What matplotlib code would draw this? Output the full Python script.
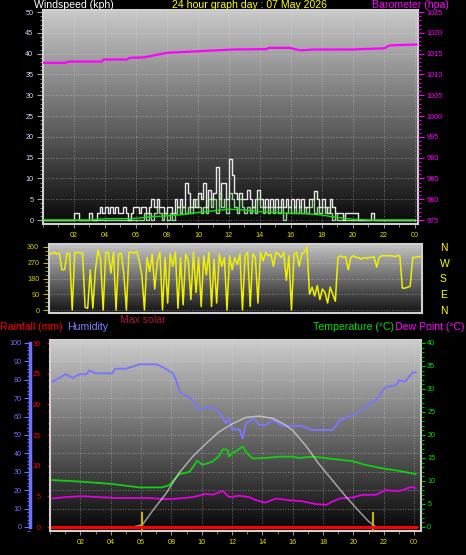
#!python3
import numpy as np
import matplotlib
matplotlib.use("Agg")
from matplotlib import pyplot as plt
from matplotlib.colors import LinearSegmentedColormap
from matplotlib.ticker import MultipleLocator

plt.rcParams["font.family"] = ["Liberation Sans", "DejaVu Sans"]

W, H = 466, 555

# windspeed, 10 minute samples from 00:00 to 24:00 (kph)
gust = [
    0, 0, 0, 0, 0, 0,
    0, 0, 0, 0, 0, 0,
    1.6, 1.6, 0, 0, 0, 0,
    1.6, 0, 0, 1.6, 3.2, 1.6,
    3.2, 1.6, 3.2, 1.6, 3.2, 1.6,
    1.6, 3.2, 1.6, 0, 1.6, 3.2,
    3.2, 1.6, 3.2, 3.2, 1.6, 3.2,
    5.0, 3.2, 5.0, 3.2, 3.2, 1.6,
    3.2, 3.2, 1.6, 5.0, 3.2, 5.0,
    3.2, 9.0, 6.4, 3.2, 5.0, 3.2,
    6.4, 5.0, 9.0, 3.2, 7.2, 5.0,
    6.4, 12.8, 5.0, 9.0, 9.0, 5.0,
    14.6, 10.8, 6.4, 5.0, 6.4, 5.0,
    5.0, 7.2, 5.0, 3.2, 5.0, 7.2,
    5.0, 3.2, 5.0, 3.2, 5.0, 3.2,
    5.0, 3.2, 5.0, 3.2, 5.0, 3.2,
    5.0, 3.2, 5.0, 3.2, 5.0, 3.2,
    3.2, 5.0, 5.0, 6.9, 5.0, 3.2,
    5.0, 3.2, 1.6, 5.0, 3.2, 1.6,
    1.6, 1.6, 0, 1.6, 1.6, 1.6,
    1.6, 1.6, 0, 0, 0, 0,
    0, 1.6, 0, 0, 0, 0,
    0, 0, 0, 0, 0, 0,
    0, 0, 0, 0, 0, 0,
    0,
]
wind = [
    0, 0, 0, 0, 0, 0,
    0, 0, 0, 0, 0, 0,
    0, 0, 0, 0, 0, 0,
    0, 0, 0, 0, 0, 0,
    0, 0, 0, 0, 0, 0,
    0, 0, 0, 0, 0, 0,
    0, 0, 0, 1.6, 0, 1.6,
    0, 1.6, 3.2, 1.6, 0, 1.6,
    0, 1.6, 0, 1.6, 3.2, 1.6,
    3.2, 1.6, 3.2, 1.6, 3.2, 5.0,
    3.2, 1.6, 3.2, 1.6, 5.0, 3.2,
    5.0, 1.6, 6.4, 3.2, 5.0, 1.6,
    6.4, 5.0, 3.2, 1.6, 5.0, 3.2,
    1.6, 3.2, 1.6, 3.2, 1.6, 5.0,
    3.2, 1.6, 3.2, 1.6, 3.2, 1.6,
    3.2, 1.6, 3.2, 0, 1.6, 3.2,
    1.6, 3.2, 1.6, 3.2, 1.6, 3.2,
    1.6, 3.2, 5.0, 1.6, 3.2, 1.6,
    3.2, 1.6, 3.2, 1.6, 0, 1.6,
    0, 0, 0, 0, 0, 0,
    0, 0, 0, 0, 0, 0,
    0, 0, 0, 0, 0, 0,
    0, 0, 0, 0, 0, 0,
    0, 0, 0, 0, 0, 0,
    0,
]
avg_hours = list(range(25))
avg_wind = [0, 0, 0, 0, 0.3, 0.3, 0.4, 0.8, 1.0, 1.3, 1.8, 2.2, 2.6,
            2.4, 2.0, 1.8, 1.6, 1.5, 1.2, 0.6, 0.2, 0, 0, 0, 0]

baro_hours = [0, 1.4, 1.7, 3.8, 3.9, 5.4, 5.6, 6.5, 8.0, 10.1, 12.3, 14.4, 14.6, 15.9,
              16.6, 17.5, 20.0, 22.0, 22.4, 24.1]
baro = [1012.8, 1012.8, 1013.1, 1013.1, 1013.6, 1013.6, 1014.0, 1014.1, 1015.2, 1015.6,
        1016.0, 1016.1, 1016.4, 1016.4, 1015.8, 1016.0, 1016.0, 1016.3, 1017.0, 1017.2]

# wind direction, 10 minute samples (degrees)
direction = [
    325, 320, 330, 320, 325, 230,
    230, 325, 320, 0, 328, 328,
    328, 325, 15, 10, 229, 10,
    229, 343, 286, 0, 330, 330,
    210, 330, 0, 320, 325, 210,
    0, 330, 330, 325, 335, 280,
    200, 0, 300, 220, 320, 120,
    280, 330, 0, 300, 40, 320,
    250, 330, 10, 300, 30, 320,
    280, 60, 330, 100, 300, 20,
    310, 200, 330, 20, 290, 40,
    320, 250, 300, 0, 310, 230,
    300, 260, 320, 0, 310, 330,
    20, 320, 300, 40, 330, 280,
    330, 310, 320, 250, 330, 320,
    300, 330, 170, 310, 0, 320,
    330, 250, 320, 330, 360, 90,
    130, 80, 140, 60, 120, 100,
    40, 130, 90, 50, 300, 310,
    300, 305, 230, 300, 310, 300,
    300, 290, 300, 295, 300, 300,
    305, 245, 300, 310, 310, 310,
    310, 310, 305, 310, 310, 125,
    125, 130, 135, 300, 300, 305,
    305,
]

hum_hours = [0.16, 1.06, 1.5, 1.95, 2.4, 2.6, 3.0, 4.1, 4.3, 5.0, 5.4, 5.9, 7.0, 7.4,
             8.1, 8.3, 8.6, 8.95, 9.4, 9.8, 10.3, 10.7, 11.2, 11.6, 11.8, 12.0, 12.5,
             12.7, 12.9, 13.4, 13.8, 14.2, 14.7, 15.3, 16.0, 16.4, 16.9, 17.3, 18.6,
             18.8, 19.1, 19.7, 20.4, 20.8, 21.5, 22.1, 22.8, 23.0, 23.4, 23.9, 24.1]
humidity = [79, 83, 81, 83, 83, 85, 83.5, 83.5, 86, 86, 87, 88.4, 88.4, 87, 83.5, 80,
            72.6, 71.5, 69, 63.6, 65, 65, 61.8, 56.4, 59, 53, 53, 48, 56, 59, 55.4,
            55.4, 58, 55, 55, 55, 54, 52.7, 52.7, 54.5, 58, 60, 62.5, 65.7, 69, 76, 77,
            79.7, 79, 84, 84]

temp_hours = [0.16, 1.9, 4.1, 5.9, 7.4, 7.85, 8.5, 9.2, 9.7, 10.05, 10.7, 11.1, 11.4,
              11.7, 11.8, 12.0, 12.4, 12.7, 13.0, 13.35, 14.2, 15.1, 16.0, 16.4, 17.3,
              18.6, 19.9, 20.8, 21.9, 23.0, 24.1]
temperature = [10.2, 9.9, 9.35, 8.6, 8.6, 9.1, 11.45, 12.0, 14.4, 13.5, 14.2, 15.3,
               16.9, 16.8, 15.3, 16.0, 16.8, 17.5, 16.0, 14.9, 15.0, 15.3, 15.3, 15.0,
               15.3, 14.8, 14.35, 13.5, 12.75, 12.2, 11.5]

dew_hours = [0.16, 1.05, 2.1, 3.2, 4.3, 6.5, 7.6, 8.5, 9.4, 9.8, 10.3, 10.7, 11.4, 11.8,
             12.5, 13.1, 13.6, 14.2, 14.9, 15.8, 16.6, 17.5, 18.2, 18.6, 19.1, 19.9,
             20.6, 21.5, 22.1, 23.0, 23.8, 24.1]
dew_point = [6.2, 6.5, 6.7, 6.5, 6.3, 6.3, 6.05, 6.2, 6.5, 6.8, 7.2, 7.0, 7.8, 6.5, 6.8,
             6.5, 5.8, 5.3, 6.2, 5.8, 5.6, 5.0, 4.8, 5.5, 6.2, 6.4, 7.0, 7.0, 8.0, 7.8,
             8.7, 8.4]

solar_hours = [0.16, 5.45, 6.1, 6.8, 7.65, 8.5, 9.4, 10.3, 11.15, 12.0, 12.9, 13.8, 14.7,
               15.5, 16.0, 16.9, 17.7, 18.6, 19.5, 20.4, 21.0, 21.5, 24.1]
max_solar = [0, 0, 0.5, 3.7, 7.3, 11.7, 15.3, 18.2, 20.7, 22.4, 23.8, 24.1, 23.6, 22.2,
             21.0, 17.5, 13.8, 10.2, 6.6, 3.3, 1.2, 0, 0]

rain_hours = [0.16, 24.1]
rain = [0, 0]
sun_marks = [6.08, 21.3]

hour_ticks = list(range(2, 25, 2))
hour_labels = ["%02d" % (h % 24) for h in hour_ticks]
compass = ["N", "E", "S", "W", "N"]


def box(x0, y0, x1, y1):
    return [x0 / W, 1 - y1 / H, (x1 - x0) / W, (y1 - y0) / H]


def gradient(ax, top, bottom):
    cmap = LinearSegmentedColormap.from_list("g", [bottom, top])
    x0, x1 = ax.get_xlim()
    y0, y1 = ax.get_ylim()
    ax.imshow(np.linspace(1, 0, 256).reshape(-1, 1), extent=(x0, x1, y0, y1),
              aspect="auto", cmap=cmap, zorder=0, interpolation="bilinear")
    ax.set_xlim(x0, x1)
    ax.set_ylim(y0, y1)


def frame(ax):
    for s in ax.spines.values():
        s.set_color("#d0d0d0")
        s.set_linewidth(1.5)
    ax.grid(True, which="major", color="#e0e0e0", linestyle=(0, (1, 2)), linewidth=0.6, alpha=0.55)


def hour_axis(ax, labels=True):
    ax.set_xticks(hour_ticks)
    ax.xaxis.set_minor_locator(MultipleLocator(1))
    if labels:
        ax.set_xticklabels(hour_labels)
    else:
        ax.set_xticklabels([])
    ax.tick_params(axis="x", which="both", direction="out", colors="#909090",
                   labelcolor="#e0e000", labelsize=5.2, pad=3)
    ax.tick_params(axis="x", which="major", length=3)
    ax.tick_params(axis="x", which="minor", length=2)


fig = plt.figure(figsize=(W / 100, H / 100), dpi=100, facecolor="black")

# ---------------- wind / barometer
ax1 = fig.add_axes(box(43, 10, 418, 224))
ax1.set_xlim(0, 24.2)
ax1.set_ylim(-0.96, 50.5)
gradient(ax1, "#cacaca", "#080808")
frame(ax1)
hour_axis(ax1)
ax1.yaxis.set_major_locator(MultipleLocator(5))
ax1.yaxis.set_minor_locator(MultipleLocator(1))
ax1.tick_params(axis="y", which="both", direction="out", colors="#a0a0a0",
                labelcolor="#cfe0ff", labelsize=5.2, pad=3)
ax1.tick_params(axis="y", which="major", length=4)
ax1.tick_params(axis="y", which="minor", length=2)
t10 = np.arange(len(gust)) / 6.0
ax1.step(t10, gust, where="post", color="#e8e8e8", linewidth=1.0, zorder=3)
ax1.step(t10, wind, where="post", color="#b8f0b0", linewidth=1.0, alpha=0.85, zorder=4)
ax1.plot(avg_hours, avg_wind, color="#10e010", linewidth=1.0, zorder=5)

ax1b = ax1.twinx()
ax1b.set_ylim(975 - 0.96, 1025.5)
ax1b.yaxis.set_major_locator(MultipleLocator(5))
ax1b.yaxis.set_minor_locator(MultipleLocator(1))
ax1b.tick_params(axis="y", which="both", direction="out", colors="#ff00ff",
                 labelcolor="#ff00ff", labelsize=5.2, pad=2)
ax1b.tick_params(axis="y", which="major", length=4)
ax1b.tick_params(axis="y", which="minor", length=2)
for s in ax1b.spines.values():
    s.set_visible(False)
ax1b.plot(baro_hours, baro, color="#ff00ff", linewidth=1.6)

# ---------------- wind direction
ax2 = fig.add_axes(box(49, 244, 422, 313))
ax2.set_xlim(0, 24.1)
ax2.set_ylim(-17, 377)
gradient(ax2, "#c4c4c4", "#141414")
frame(ax2)
ax2.set_xticks(hour_ticks)
ax2.tick_params(axis="x", which="both", length=0, labelbottom=False)
ax2.grid(False, axis="x")
ax2.set_yticks([0, 90, 180, 270, 360])
ax2.yaxis.set_minor_locator(MultipleLocator(22.5))
ax2.tick_params(axis="y", which="both", direction="out", colors="#b8b800",
                labelcolor="#d0d000", labelsize=5.2, pad=3)
ax2.tick_params(axis="y", which="major", length=4)
ax2.tick_params(axis="y", which="minor", length=3)
ax2.plot(np.arange(len(direction)) / 6.0, direction, color="#f0f000", linewidth=1.1, zorder=3)

ax2b = ax2.twinx()
ax2b.set_ylim(-17, 377)
ax2b.set_yticks([0, 90, 180, 270, 360])
ax2b.set_yticklabels(compass)
ax2b.tick_params(axis="y", length=0, labelcolor="#ffff00", labelsize=7.5, pad=13)
for s in ax2b.spines.values():
    s.set_visible(False)

# ---------------- humidity / temperature / rain
ax3 = fig.add_axes(box(50, 340, 421, 531))
ax3.set_xlim(0, 24.45)
ax3.set_ylim(-2.2, 101.6)
gradient(ax3, "#cccccc", "#060606")
frame(ax3)
hour_axis(ax3)
ax3.spines["left"].set_position(("outward", 14.4))
ax3.spines["left"].set_color("#7070ff")
ax3.spines["left"].set_linewidth(2.5)
ax3.spines["left"].set_bounds(0, 100)
ax3.yaxis.set_major_locator(MultipleLocator(10))
ax3.yaxis.set_minor_locator(MultipleLocator(2))
ax3.tick_params(axis="y", which="both", direction="out", colors="#7070ff",
                labelcolor="#7070ff", labelsize=5.2, pad=2)
ax3.tick_params(axis="y", which="major", length=4)
ax3.tick_params(axis="y", which="minor", length=2)

axT = ax3.twinx()
axT.set_ylim(-0.87, 40.65)
axT.yaxis.set_major_locator(MultipleLocator(5))
axT.yaxis.set_minor_locator(MultipleLocator(1))
axT.tick_params(axis="y", which="both", direction="out", colors="#00d000",
                labelcolor="#00e000", labelsize=5.2, pad=1.5)
axT.tick_params(axis="y", which="major", length=3)
axT.tick_params(axis="y", which="minor", length=2)
for s in axT.spines.values():
    s.set_visible(False)

axR = ax3.twinx()
axR.set_ylim(-0.65, 30.5)
axR.yaxis.tick_left()
axR.yaxis.set_major_locator(MultipleLocator(5))
axR.yaxis.set_minor_locator(MultipleLocator(1))
axR.tick_params(axis="y", which="both", direction="out", colors="#e00000",
                labelcolor="#ff0000", labelsize=5.2, pad=4)
axR.tick_params(axis="y", which="major", length=2.5)
axR.tick_params(axis="y", which="minor", length=1.5)
for name, s in axR.spines.items():
    s.set_visible(name == "left")
    s.set_color("#d0d0d0")
    s.set_linewidth(1.5)

axR.plot(rain_hours, rain, color="#ff0000", linewidth=2.2, zorder=2)
axT.plot(temp_hours, temperature, color="#10d010", linewidth=1.3, zorder=3)
axT.plot(dew_hours, dew_point, color="#e000e0", linewidth=1.3, zorder=3)
axT.plot(solar_hours, max_solar, color="#e0e0e0", alpha=0.65, linewidth=1.1, zorder=4)
axT.vlines(sun_marks, -0.87, 3.3, color="#c8b400", linewidth=1.5, zorder=5)
ax3.plot(hum_hours, humidity, color="#7878f8", linewidth=1.4, zorder=3)

# ---------------- texts
def label(x, y, s, color, ha="left", size=7.6):
    fig.text(x / W, 1 - y / H, s, color=color, ha=ha, va="center", fontsize=size)


label(34, 5, "Windspeed (kph)", "#ffffff")
label(250, 5, "24 hour graph day : 07 May 2026", "#ffff00", ha="center")
label(372, 5, "Barometer (hpa)", "#ff00ff")
label(120, 320, "Max solar", "#b01838")
label(0, 327, "Rainfall (mm)", "#ff0000")
label(67, 327, "Humidity", "#8080ff")
label(313, 327, "Temperature (\u00b0C)", "#00e000")
label(395, 327, "Dew Point (\u00b0C)", "#ff00ff")

fig.savefig("out.png", dpi=100, facecolor="black")
